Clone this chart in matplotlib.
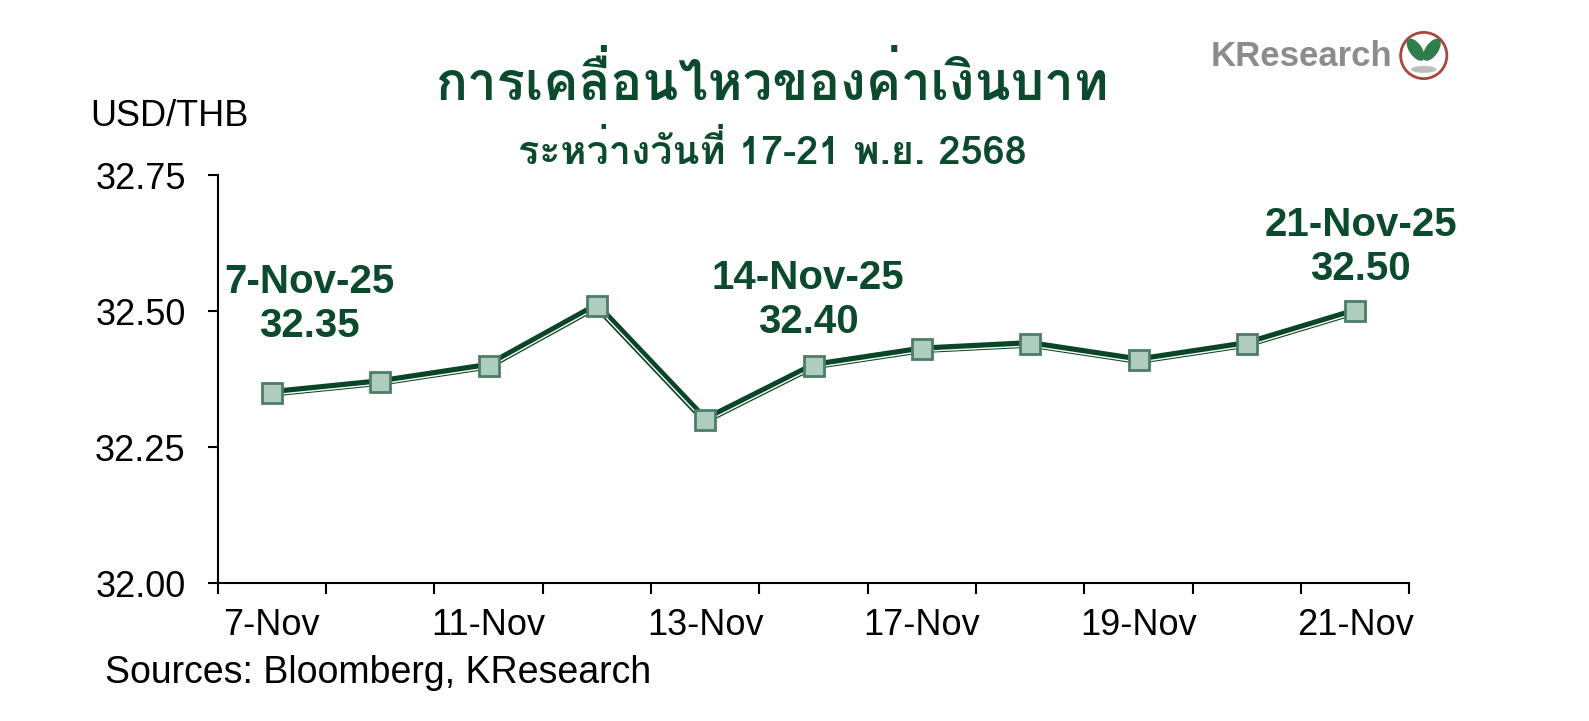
import matplotlib
matplotlib.use("Agg")
import matplotlib.pyplot as plt
import matplotlib.patheffects as pe
from matplotlib import font_manager, ft2font
from matplotlib.patches import Circle, Ellipse

# data
dates = ["7-Nov", "10-Nov", "11-Nov", "12-Nov", "13-Nov", "14-Nov",
         "17-Nov", "18-Nov", "19-Nov", "20-Nov", "21-Nov"]
usdthb = [32.35, 32.37, 32.40, 32.51, 32.30, 32.40, 32.43, 32.44, 32.41, 32.44, 32.50]
y_ticks = [32.00, 32.25, 32.50, 32.75]
# (index, label, offset in points)
callouts = [(0, "7-Nov-25\n32.35", (27, 64)),
            (5, "14-Nov-25\n32.40", (-4, 47)),
            (10, "21-Nov-25\n32.50", (4, 46))]

title = "การเคลื่อนไหวของค่าเงินบาท"
subtitle = "ระหว่างวันที่ 17-21 พ.ย. 2568"

DARK = "#0b4a2c"
LINE = "#0a4527"


def thai_fonts():
    names = []
    for f in font_manager.fontManager.ttflist:
        try:
            cm = ft2font.FT2Font(f.fname).get_charmap()
        except Exception:
            continue
        if 0x0E01 in cm and f.name not in names:
            names.append(f.name)
    return names


latin = ["Liberation Sans", "DejaVu Sans"]
thai = thai_fonts()
plt.rcParams["font.family"] = latin
thai_family = thai + latin

fig = plt.figure(figsize=(15.89, 7.21), dpi=100)
ax = fig.add_axes([0.137, 0.191, 0.750, 0.566])

x = list(range(len(dates)))
ax.plot(x, usdthb, color=LINE, lw=5.5, solid_joinstyle="miter", zorder=3,
        path_effects=[pe.Normal(),
                      pe.Stroke(linewidth=1.0, foreground="white", offset=(0, -1.5))])
ax.plot(x, usdthb, ls="none", marker="s", ms=15, mfc="#afcdbf", mec="#4d7d66",
        mew=2, zorder=4)

for i, txt, off in callouts:
    ax.annotate(txt, xy=(i, usdthb[i]), xytext=off, textcoords="offset points",
                ha="center", va="center", fontsize=29, fontweight="bold",
                color=DARK, linespacing=1.2)

ax.set_xlim(-0.5, len(dates) - 0.5)
ax.set_ylim(32.0, 32.75)
ax.set_yticks(y_ticks)
ax.set_yticklabels([f"{v:.2f}" for v in y_ticks])
ax.set_xticks([i - 0.5 for i in range(len(dates) + 1)])
ax.set_xticklabels([])
ax.set_xticks(x[::2], minor=True)
ax.set_xticklabels(dates[::2], minor=True)
ax.tick_params(axis="x", which="minor", length=0, pad=18, labelsize=26)
ax.tick_params(axis="x", which="major", length=8, width=1.5)
ax.tick_params(axis="y", length=7, width=1.5, pad=16, labelsize=26)
for s in ["top", "right"]:
    ax.spines[s].set_visible(False)
for s in ["left", "bottom"]:
    ax.spines[s].set_linewidth(1.5)

fig.text(0.486, 0.884, title, ha="center", va="center", fontsize=38,
         fontweight="bold", color=DARK, family=thai_family)
fig.text(0.486, 0.789, subtitle, ha="center", va="center", fontsize=28.5,
         fontweight="bold", color=DARK, family=thai_family)
fig.text(0.057, 0.838, "USD/THB", ha="left", va="center", fontsize=26)
fig.text(0.066, 0.066, "Sources: Bloomberg, KResearch", ha="left", va="center",
         fontsize=27)

# logo
fig.text(0.876, 0.922, "KResearch", ha="right", va="center", fontsize=25,
         fontweight="bold", color="#8c8c8c")
lax = fig.add_axes([0.880, 0.858, 0.032, 0.13])
lax.set_xlim(-1.1, 1.1)
lax.set_ylim(-1.1, 1.1)
lax.set_aspect("equal")
lax.axis("off")
lax.add_patch(Circle((0, 0), 1, fc="white", ec="#a5483f", lw=2))
lax.add_patch(Ellipse((-0.35, 0.25), 0.55, 1.1, angle=35, fc="#2f7d4a", ec="none"))
lax.add_patch(Ellipse((0.35, 0.25), 0.55, 1.1, angle=-35, fc="#2f7d4a", ec="none"))
lax.add_patch(Ellipse((0, -0.6), 1.1, 0.3, fc="#bdbdbd", ec="none"))

fig.savefig("out.png", dpi=100)
